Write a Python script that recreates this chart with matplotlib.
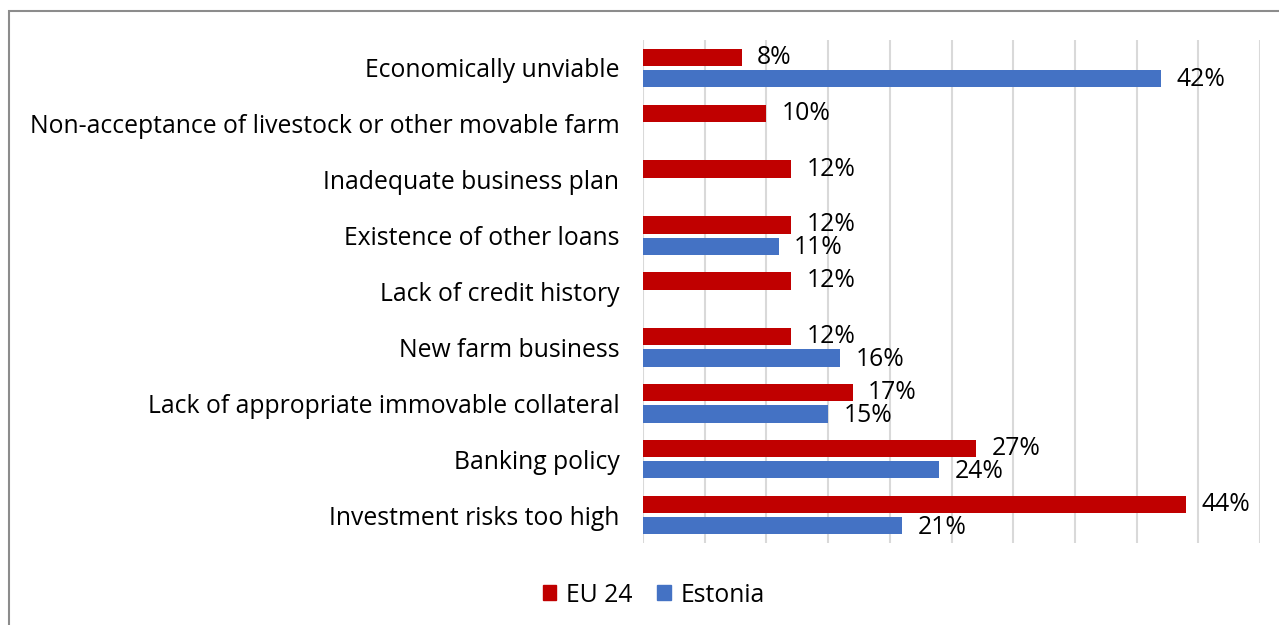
import matplotlib.pyplot as plt
import numpy as np
from matplotlib.patches import Rectangle, Patch

plt.rcParams['font.family'] = ['Open Sans', 'DejaVu Sans']

# Datos (de arriba hacia abajo)
categories = [
    'Economically unviable',
    'Non-acceptance of livestock or other movable farm',
    'Inadequate business plan',
    'Existence of other loans',
    'Lack of credit history',
    'New farm business',
    'Lack of appropriate immovable collateral',
    'Banking policy',
    'Investment risks too high',
]
eu24 = [8, 10, 12, 12, 12, 12, 17, 27, 44]
estonia = [42, np.nan, np.nan, 11, np.nan, 16, 15, 24, 21]

red = '#C00000'
blue = '#4472C4'
fs = 17.8

fig = plt.figure(figsize=(12.79, 6.25), dpi=100)
ax = fig.add_axes([643 / 1279, 1 - 543 / 625, (1260 - 643) / 1279, (543 - 40) / 625])

y = np.arange(len(categories))
h = 0.31
gap = 0.035

bars_eu = ax.barh(y - h / 2 - gap, eu24, height=h, color=red, zorder=3)
est_vals = np.nan_to_num(np.array(estonia, dtype=float))
bars_est = ax.barh(y + h / 2 + gap, est_vals, height=h, color=blue, zorder=3)

# Etiquetas de valores
for b, v in zip(bars_eu, eu24):
    ax.annotate(f'{v:.0f}%', (b.get_width(), b.get_y() + b.get_height() / 2),
                xytext=(11, 0), textcoords='offset points',
                va='center', ha='left', fontsize=fs, color='#000000')
for b, v in zip(bars_est, estonia):
    if np.isnan(v):
        continue
    ax.annotate(f'{v:.0f}%', (b.get_width(), b.get_y() + b.get_height() / 2),
                xytext=(11, -1), textcoords='offset points',
                va='center', ha='left', fontsize=fs, color='#000000')

ax.set_xlim(0, 50)
ax.set_ylim(len(categories) - 0.5, -0.5)
ax.set_xticks(np.arange(0, 51, 5))
ax.set_xticklabels([])
ax.set_yticks(y)
ax.set_yticklabels(categories, fontsize=fs)
ax.tick_params(axis='both', length=0)
ax.tick_params(axis='y', pad=17)
ax.grid(axis='x', color='#D9D9D9', linewidth=1.5, zorder=0)
for s in ax.spines.values():
    s.set_visible(False)

# Leyenda
handles = [Patch(color=red, label='EU 24'), Patch(color=blue, label='Estonia')]
fig.legend(handles=handles, loc='center', bbox_to_anchor=(654 / 1279, 1 - 595 / 625),
           ncol=2, frameon=False, fontsize=fs, handlelength=0.55, handleheight=0.55,
           handletextpad=0.4, columnspacing=1.0)

# Marco
fig.patches.append(Rectangle((9 / 1279, -0.1), 1.2, 1 - 11 / 625 + 0.1,
                             transform=fig.transFigure, fill=False,
                             edgecolor='#8C8C8C', linewidth=1.5, clip_on=False))

fig.savefig('out.png', dpi=100)
